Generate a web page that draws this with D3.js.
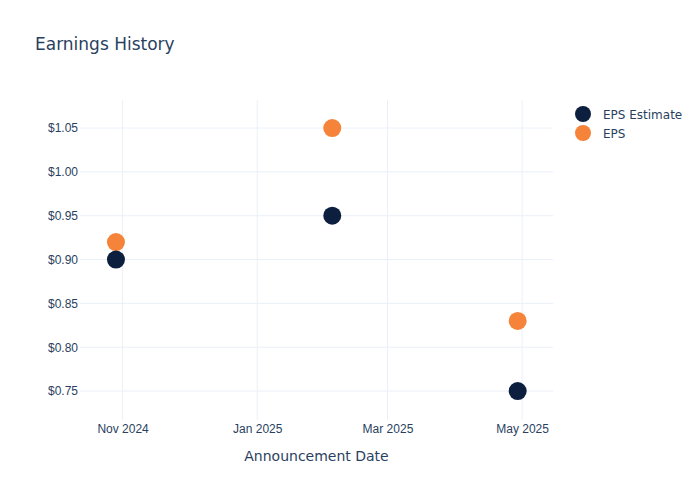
<!DOCTYPE html>
<html><head><meta charset="utf-8">
<script src="https://cdn.jsdelivr.net/npm/d3@7"></script>
<style>body{margin:0;background:#fff}svg{font-family:"DejaVu Sans",verdana,arial,sans-serif}</style>
</head><body>
<svg id="c" width="700" height="500"></svg>
<script>
const dates = ["2024-10-29","2025-02-04","2025-04-29"];
const epsEstimate = [0.90, 0.95, 0.75];
const eps = [0.92, 1.05, 0.83];
const yTicks = [0.75, 0.80, 0.85, 0.90, 0.95, 1.00, 1.05];
const xTicks = ["2024-11-01","2025-01-01","2025-03-01","2025-05-01"];
const seriesNames = ["EPS Estimate","EPS"];
const colors = {"EPS Estimate":"#0c1f3f","EPS":"#f58339"};

const parse = d3.utcParse("%Y-%m-%d");
const svg = d3.select("#c");
const m = {l:80, r:147, t:100, b:80};
const W = 700, H = 500;
const x = d3.scaleUtc().domain([parse("2024-10-12").getTime()+17*3600e3, parse("2025-05-15").getTime()]).range([m.l, W-m.r]);
const y = d3.scaleLinear().domain([0.717, 1.082]).range([H-m.b, m.t]);
const grid = "#ebf0f8", txt = "#2a3f5f";

svg.append("g").selectAll("line").data(yTicks).join("line")
  .attr("x1", m.l).attr("x2", W-m.r).attr("y1", d=>y(d)).attr("y2", d=>y(d))
  .attr("stroke", grid).attr("stroke-width", 1);
svg.append("g").selectAll("line").data(xTicks).join("line")
  .attr("y1", m.t).attr("y2", H-m.b).attr("x1", d=>x(parse(d))).attr("x2", d=>x(parse(d)))
  .attr("stroke", grid).attr("stroke-width", 1);

const yAxis = svg.append("g").attr("transform", `translate(${m.l},0)`)
  .call(d3.axisLeft(y).tickValues(yTicks).tickFormat(d=>"$"+d3.format(".2f")(d)).tickSize(0).tickPadding(2));
yAxis.select(".domain").remove();
yAxis.selectAll("text").attr("fill", txt).style("font-size","12px");

const xAxis = svg.append("g").attr("transform", `translate(0,${H-m.b})`)
  .call(d3.axisBottom(x).tickValues(xTicks.map(parse)).tickFormat(d3.utcFormat("%b %Y")).tickSize(0).tickPadding(4));
xAxis.select(".domain").remove();
xAxis.selectAll("text").attr("fill", txt).style("font-size","12px");

svg.append("text").attr("x", (m.l + W - m.r)/2).attr("y", 461).attr("text-anchor","middle")
  .attr("fill", txt).style("font-size","14px").text("Announcement Date");
svg.append("text").attr("x", 35).attr("y", 50).attr("fill", txt).style("font-size","17px").text("Earnings History");

const pts = svg.append("g");
pts.selectAll("circle.eps").data(eps).join("circle").attr("class","eps")
  .attr("cx",(d,i)=>x(parse(dates[i]))).attr("cy",d=>y(d)).attr("r",9).attr("fill",colors["EPS"]);
pts.selectAll("circle.est").data(epsEstimate).join("circle").attr("class","est")
  .attr("cx",(d,i)=>x(parse(dates[i]))).attr("cy",d=>y(d)).attr("r",9).attr("fill",colors["EPS Estimate"]);

const lg = svg.append("g").selectAll("g").data(seriesNames).join("g")
  .attr("transform",(d,i)=>`translate(583,${114+i*19})`);
lg.append("circle").attr("r",8).attr("fill",d=>colors[d]);
lg.append("text").attr("x",20).attr("y",4.5).attr("fill",txt).style("font-size","12px").text(d=>d);
</script>
</body></html>
